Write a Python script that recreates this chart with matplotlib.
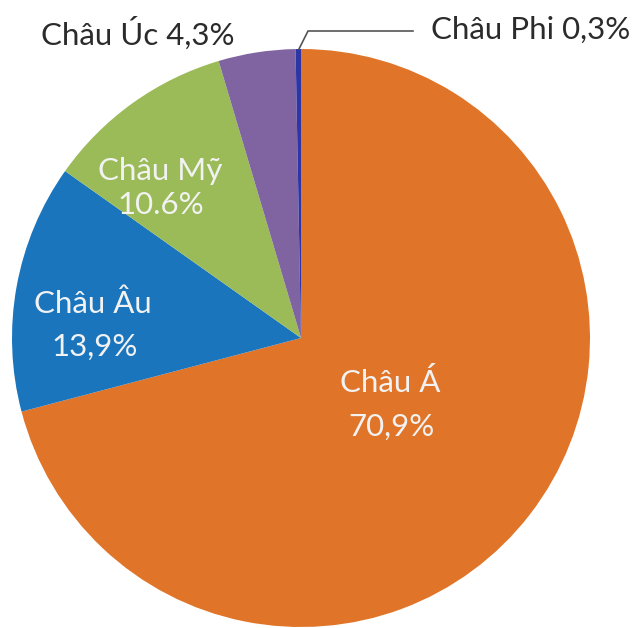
import matplotlib
matplotlib.use("Agg")
import matplotlib.pyplot as plt

# Data
categories = ["Châu Á", "Châu Âu", "Châu Mỹ", "Châu Úc", "Châu Phi"]
values = [70.9, 13.9, 10.6, 4.3, 0.3]
value_labels = ["70,9%", "13,9%", "10.6%", "4,3%", "0,3%"]
colors = ["#E07428", "#1A75BD", "#9BBB59", "#8064A2", "#2E36A6"]

W, H = 637, 628
fig = plt.figure(figsize=(W / 100, H / 100), dpi=100)
ax = fig.add_axes([0, 0, 1, 1])

def py(y):
    return H - y

cx, cy, r = 301, 338, 289
ax.pie(values, colors=colors, startangle=90, counterclock=False,
       center=(cx, py(cy)), radius=r, frame=True,
       wedgeprops=dict(linewidth=0))
ax.set_xlim(0, W)
ax.set_ylim(0, H)
ax.axis("off")

fam = ["Lato", "DejaVu Sans"]
fs = 22.5
white = "#F2F2F2"
dark = "#2B2B2B"

# Inside labels
inside = {0: ((390, 383), (391, 427)),
          1: ((93, 304), (95, 347)),
          2: ((160, 171), (161, 205))}
for i, ((x1, y1), (x2, y2)) in inside.items():
    ax.text(x1, py(y1), categories[i], ha="center", va="center",
            color=white, fontsize=fs, family=fam)
    ax.text(x2, py(y2), value_labels[i], ha="center", va="center",
            color=white, fontsize=fs, family=fam)

# Outside labels
ax.text(138, py(33), f"{categories[3]} {value_labels[3]}", ha="center",
        va="center", color=dark, fontsize=fs, family=fam)
ax.text(431, py(30), f"{categories[4]} {value_labels[4]}", ha="left",
        va="center", color=dark, fontsize=fs, family=fam)
ax.plot([299, 308, 413], [py(49), py(31), py(31)], color="#555555", lw=1.2)

fig.savefig("out.png", dpi=100)
